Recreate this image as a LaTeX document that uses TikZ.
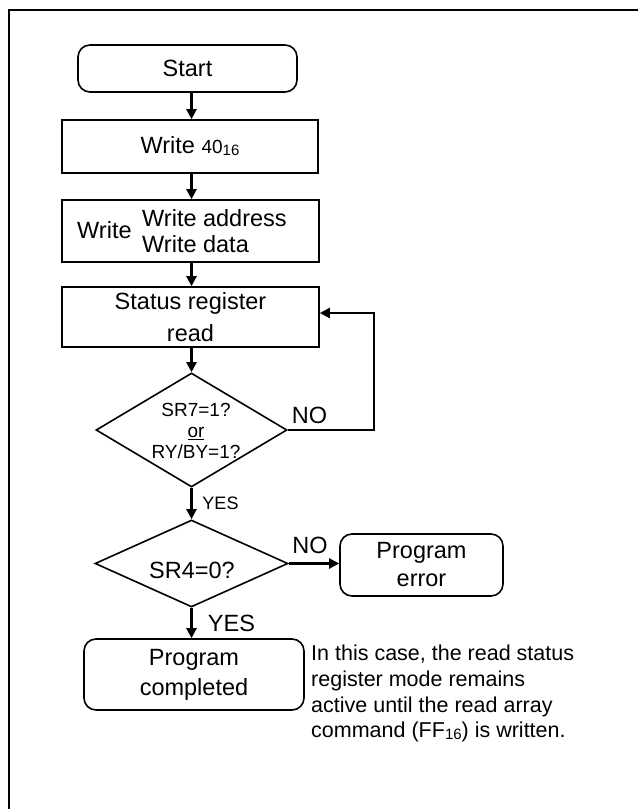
\documentclass[tikz,border=0pt]{standalone}
\usepackage{fontspec}
\setmainfont{Liberation Sans}
\usetikzlibrary{shapes.geometric,arrows.meta}
\begin{document}
\begin{tikzpicture}[x=1pt,y=-1pt,
  box/.style={draw,line width=1.6pt,inner sep=0pt,align=center,font=\fontsize{23.5}{32}\selectfont},
  rbox/.style={box,rounded corners=12pt},
  dia/.style={draw,diamond,line width=1.6pt,inner sep=0pt},
  arr/.style={line width=2.2pt,-{Triangle[length=10pt,width=10pt]}},
  txt/.style={inner sep=0pt,align=center,font=\fontsize{23.5}{28}\selectfont},
  small/.style={inner sep=0pt,font=\fontsize{18}{20}\selectfont}]
\useasboundingbox (0,0) rectangle (638,809);
\draw[line width=2pt] (9,809) -- (9,10) -- (638,10);

\node[rbox,minimum width=219pt,minimum height=47pt] (start) at (187.5,68.5) {Start};
\node[box,minimum width=256pt,minimum height=53pt] (w40) at (190,146.5)
  {Write {\fontsize{19}{19}\selectfont 40}{\fontsize{15}{15}\selectfont\raisebox{-2pt}{16}}};
\node[box,minimum width=257pt,minimum height=62pt] (wad) at (190.5,231) {};
\node[txt,anchor=west] (wadl) at (77,230) {Write};
\node[txt,anchor=west] (wadr1) at (142,218) {Write address};
\node[txt,anchor=west] (wadr2) at (142,244) {Write data};
\node[box,minimum width=257pt,minimum height=60pt] (srr) at (190.5,317) {Status register\\read};

\node[dia,minimum width=191pt,minimum height=114pt] (d1) at (191.5,430) {};
\node[inner sep=0pt,align=center,font=\fontsize{19}{21}\selectfont] (d1t) at (196,431)
  {SR7=1?\\\underline{or}\\RY/BY=1?};
\node[txt] (no1) at (309.5,415) {NO};
\coordinate (lp) at (374,313);

\node[small] (yes1) at (220.5,503) {YES};
\node[dia,minimum width=193pt,minimum height=87pt] (d2) at (191.5,563.5) {};
\node[txt] (d2t) at (192,570) {SR4=0?};
\node[txt] (no2) at (310,545) {NO};
\node[rbox,minimum width=163pt,minimum height=62pt,font=\fontsize{23.5}{28}\selectfont] (err) at (421.5,565) {Program\\error};
\node[txt] (yes2) at (231.5,623) {YES};
\node[rbox,minimum width=220pt,minimum height=71pt,font=\fontsize{23.5}{30}\selectfont] (done) at (194,674.5) {Program\\completed};

\node[inner sep=0pt,anchor=north west,align=left,font=\fontsize{21.5}{25.7}\selectfont] (note) at (311,645)
  {In this case, the read status\\register mode remains\\active until the read array\\command (FF{\fontsize{15}{15}\selectfont\raisebox{-2pt}{16}}) is written.};

\draw[arr] (start.south -| d1.north) -- (w40.north -| d1.north);
\draw[arr] (w40.south -| d1.north) -- (wad.north -| d1.north);
\draw[arr] (wad.south -| d1.north) -- (srr.north -| d1.north);
\draw[arr] (srr.south -| d1.north) -- (d1.north);
\draw[arr] (d1.east) -| (lp) -- (srr.east |- lp);
\draw[arr] (d1.south) -- (d2.north);
\draw[arr] (d2.east) -- (d2.east -| err.west);
\draw[arr] (d2.south) -- (done.north -| d2.south);
\end{tikzpicture}
\end{document}
